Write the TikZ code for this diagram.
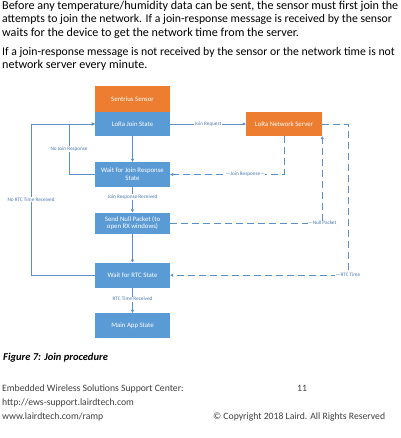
\documentclass[tikz,border=0pt]{standalone}
\usepackage{fontspec}
\setmainfont{Carlito}
\usetikzlibrary{arrows.meta}
\definecolor{boxblue}{HTML}{5B9BD5}
\definecolor{boxorange}{HTML}{ED7D31}
\definecolor{linecol}{HTML}{5B8FC7}
\definecolor{lblcol}{HTML}{4A78B0}
\definecolor{foot}{HTML}{404040}
\tikzset{
  box/.style={draw=none, minimum width=75pt, minimum height=25pt, text=white, font=\fontsize{6.8}{7.8}\selectfont, align=center, inner sep=1pt},
  bluebox/.style={box, fill=boxblue},
  orangebox/.style={box, fill=boxorange},
  conn/.style={draw=linecol, line width=0.6pt, -{Triangle[length=3pt,width=3pt]}},
  dconn/.style={conn, dash pattern=on 7pt off 4pt},
  lbl/.style={fill=white, text=lblcol, font=\fontsize{5.2}{6}\selectfont, inner sep=0.6pt},
  body/.style={anchor=base west, inner sep=0pt, font=\fontsize{12.1}{13}\selectfont, text=black},
  bodytight/.style={body, font=\fontsize{11.75}{13}\selectfont},
  footer/.style={anchor=base west, inner sep=0pt, font=\fontsize{9.7}{10}\selectfont, text=foot}
}
\begin{document}
\begin{tikzpicture}[x=1pt,y=-1pt]
\useasboundingbox (0,0) rectangle (400,438);
\fill[white] (0,0) rectangle (400,438);
% body text
\node[body] (t1) at (2,9.5) {Before any temperature/humidity data can be sent, the sensor must first join the};
\node[bodytight] (t2) at (2,23) {attempts to join the network. If a join-response message is received by the sensor};
\node[body] (t3) at (2,36.5) {waits for the device to get the network time from the server.};
\node[bodytight] (t4) at (2,55.5) {If a join-response message is not received by the sensor or the network time is not};
\node[body] (t5) at (2,69) {network server every minute.};
% boxes
\node[orangebox, minimum height=26pt] (sensor) at (132.5,99) {Sentrius Sensor};
\node[bluebox, minimum height=24pt] (join) at (132.5,124) {LoRa Join State};
\node[orangebox, minimum width=76pt, minimum height=24pt] (server) at (284,124) {LoRa Network Server};
\node[bluebox] (waitjoin) at (132.5,174.5) {Wait for Join Response\\State};
\node[bluebox, minimum height=21pt] (null) at (132.5,223) {Send Null Packet (to\\open RX windows)};
\node[bluebox] (rtc) at (132.5,275.2) {Wait for RTC State};
\node[bluebox] (main) at (132.5,325.5) {Main App State};
% solid connectors
\draw[conn] (join) -- (server) node[lbl, midway] {Join Request};
\draw[conn] (join) -- (waitjoin);
\draw[conn] (waitjoin) -- (null) node[lbl, pos=0.4] {Join Response Received};
\draw[conn] (null) -- (rtc);
\draw[conn] (rtc) -- (main) node[lbl, pos=0.45] {RTC Time Received};
\coordinate (nj) at (69,174.5);
\draw[conn] (waitjoin.west) -- (nj) -- (nj |- join.west) node[lbl, midway] {No Join Response} -- (join.west);
\coordinate (nr) at (31,275.2);
\draw[conn] (rtc.west) -- (nr) -- (nr |- join.west) node[lbl, midway] {No RTC Time Received} -- (join.west);
% dashed connectors
\draw[dconn] (server.south) |- (waitjoin.east) node[lbl, pos=0.67] {\textemdash Join Response\textemdash};
\draw[dconn] (null.east) -| (server.south east) node[lbl, pos=0.5] {\textemdash Null Packet};
\coordinate (rt) at (348,124);
\draw[dconn] (server.east) -- (rt) -- (rt |- rtc.east) node[lbl] {\textemdash RTC Time} -- (rtc.east);
% caption
\node[anchor=base west, inner sep=0pt, font=\fontsize{10.5}{12}\selectfont\bfseries\itshape] (cap) at (3,360) {Figure 7: Join procedure};
% footer
\node[footer] (f1) at (2,391) {Embedded Wireless Solutions Support Center:};
\node[footer] (f2) at (2,405) {http://ews-support.lairdtech.com};
\node[footer] (f3) at (2,419) {www.lairdtech.com/ramp};
\node[footer] (f4) at (297,391) {11};
\node[footer] (f5) at (213,419) {\textcopyright{} Copyright 2018 Laird. All Rights Reserved};
\end{tikzpicture}
\end{document}
